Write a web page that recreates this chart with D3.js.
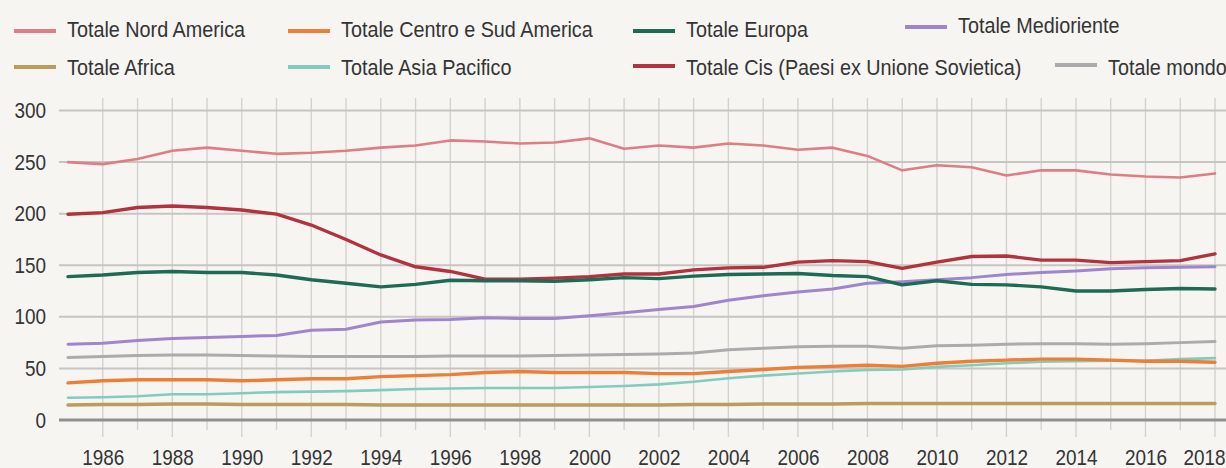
<!DOCTYPE html>
<html>
<head>
<meta charset="utf-8">
<script src="https://cdn.jsdelivr.net/npm/d3@7"></script>
<style>
  html, body { margin: 0; padding: 0; background: #f6f5f2; }
  svg { display: block; }
  text { font-family: "Liberation Sans", Arial, sans-serif; fill: #343434; }
</style>
</head>
<body>
<svg id="chart" width="1226" height="468"></svg>
<script>
// Anni della serie storica
const years = [1985, 1986, 1987, 1988, 1989, 1990, 1991, 1992, 1993, 1994,
               1995, 1996, 1997, 1998, 1999, 2000, 2001, 2002, 2003, 2004,
               2005, 2006, 2007, 2008, 2009, 2010, 2011, 2012, 2013, 2014,
               2015, 2016, 2017, 2018];

// Valori per area geografica
const nordAmerica = [250, 248, 253, 261, 264, 261, 258, 259, 261, 264,
                     266, 271, 270, 268, 269, 273, 263, 266, 264, 268,
                     266, 262, 264, 256, 242, 247, 245, 237, 242, 242,
                     238, 236, 235, 239];
const centroSudAmerica = [36, 38, 39, 39, 39, 38, 39, 40, 40, 42,
                          43, 44, 46, 47, 46, 46, 46, 45, 45, 47,
                          49, 51, 52, 53, 52, 55, 57, 58, 59, 59,
                          58, 57, 57, 56];
const europa = [139, 140.5, 143, 144, 143, 143, 140.5, 136, 132.5, 129,
                131.5, 135.5, 135, 135, 134.5, 136, 138, 137, 139.5, 141,
                141.5, 142, 140, 139, 131, 135, 131.5, 131, 129, 125,
                125, 126.5, 127.5, 127];
const medioriente = [73.5, 74.5, 77, 79, 80, 81, 82, 87, 88, 95,
                     97, 97.5, 99, 98.5, 98.5, 101, 104, 107, 110, 116,
                     120.5, 124, 127, 132.5, 134, 136, 138, 141, 143, 144.5,
                     146.5, 147.5, 148, 148.5];
const africa = [14.5, 15, 15, 15.5, 15.5, 15, 15, 15, 15, 14.5,
                14.5, 14.5, 14.5, 14.5, 14.5, 14.5, 14.5, 14.5, 15, 15,
                15.5, 15.5, 15.5, 16, 16, 16, 16, 16, 16, 16,
                16, 16, 16, 16];
const asiaPacifico = [21.5, 22, 23, 25, 25, 26, 27, 27.5, 28, 29,
                      30, 30.5, 31, 31, 31, 32, 33, 34.5, 37, 40.5,
                      43, 45, 47, 48.5, 49, 51.5, 53, 55, 56.5, 57,
                      57.5, 57.5, 59, 60];
const cis = [199.5, 201, 206, 207.5, 206, 203.5, 199.5, 189, 175, 160,
             148.5, 144, 136.5, 136.5, 137.5, 139, 141.5, 141.5, 145.5, 147.5,
             148, 153, 154.5, 153.5, 147, 153, 158.5, 159, 155, 155,
             152.5, 153.5, 154.5, 161];
const mondo = [60.5, 61.5, 62.5, 63, 63, 62.5, 62, 61.5, 61.5, 61.5,
               61.5, 62, 62, 62, 62.5, 63, 63.5, 64, 65, 68,
               69.5, 71, 71.5, 71.5, 69.5, 72, 72.5, 73.5, 74, 74,
               73.5, 74, 75, 76];

// Etichette dei tick
const yTicks = [0, 50, 100, 150, 200, 250, 300];
const xTickLabels = [1986, 1988, 1990, 1992, 1994, 1996, 1998, 2000, 2002,
                     2004, 2006, 2008, 2010, 2012, 2014, 2016, 2018];

// Serie: nome, valori, colore, spessore
const series = [
  { name: "Totale Nord America", values: nordAmerica, color: "#df7d84", width: 2.6 },
  { name: "Totale Centro e Sud America", values: centroSudAmerica, color: "#ec7f35", width: 3.4 },
  { name: "Totale Europa", values: europa, color: "#1d6a55", width: 3.4 },
  { name: "Totale Medioriente", values: medioriente, color: "#9f85cc", width: 3 },
  { name: "Totale Africa", values: africa, color: "#bb9c5e", width: 3.4 },
  { name: "Totale Asia Pacifico", values: asiaPacifico, color: "#83cbbf", width: 2.6 },
  { name: "Totale Cis (Paesi ex Unione Sovietica)", values: cis, color: "#b2323d", width: 3.4 },
  { name: "Totale mondo", values: mondo, color: "#ababab", width: 3 }
];

// Ordine di disegno (le ultime sopra)
const drawOrder = ["Totale mondo", "Totale Africa", "Totale Asia Pacifico",
  "Totale Centro e Sud America", "Totale Medioriente", "Totale Nord America",
  "Totale Cis (Paesi ex Unione Sovietica)", "Totale Europa"];

// Disposizione della legenda
const legendLayout = [
  { name: "Totale Nord America", x: 14, y: 31, ty: 37 },
  { name: "Totale Centro e Sud America", x: 288, y: 31, ty: 37 },
  { name: "Totale Europa", x: 633, y: 31, ty: 37 },
  { name: "Totale Medioriente", x: 905, y: 27, ty: 33 },
  { name: "Totale Africa", x: 14, y: 67, ty: 75 },
  { name: "Totale Asia Pacifico", x: 288, y: 67, ty: 75 },
  { name: "Totale Cis (Paesi ex Unione Sovietica)", x: 633, y: 66, ty: 75 },
  { name: "Totale mondo", x: 1055, y: 65, ty: 75 }
];

// Compressione orizzontale del carattere
const LEGEND_SCALE = 0.9;
const AXIS_SCALE = 0.86;

const svg = d3.select("#chart");
const W = 1226;

const x = d3.scaleLinear().domain([1985, 2018]).range([68, 1215]);
const y = d3.scaleLinear().domain([0, 300]).range([420, 110.5]);

// Griglia verticale (un anno per linea)
svg.append("g").selectAll("line")
  .data(years.slice(1))
  .join("line")
  .attr("x1", d => x(d)).attr("x2", d => x(d))
  .attr("y1", 98)
  .attr("y2", d => (d % 2 === 0 ? 437 : 430))
  .attr("stroke", "#d3d2cf")
  .attr("stroke-width", 1.4);

// Griglia orizzontale
svg.append("g").selectAll("line")
  .data(yTicks.filter(d => d > 0))
  .join("line")
  .attr("x1", 59).attr("x2", W)
  .attr("y1", d => y(d)).attr("y2", d => y(d))
  .attr("stroke", "#c6c5c2")
  .attr("stroke-width", 2);

// Linea dello zero
svg.append("line")
  .attr("x1", 59).attr("x2", W)
  .attr("y1", y(0)).attr("y2", y(0))
  .attr("stroke", "#8f8f8f")
  .attr("stroke-width", 3);

// Asse Y (solo etichette)
const yAxis = svg.append("g")
  .attr("transform", "translate(46,0)")
  .call(d3.axisLeft(y).tickValues(yTicks).tickSize(0).tickPadding(0));
yAxis.attr("font-family", null).attr("font-size", null);
yAxis.select(".domain").remove();
yAxis.selectAll("text")
  .attr("font-size", 22)
  .attr("fill", "#343434")
  .attr("transform", `scale(${AXIS_SCALE},1)`);

// Asse X (solo etichette, anni pari)
const xAxis = svg.append("g")
  .attr("transform", "translate(0,449)")
  .call(d3.axisBottom(x).tickValues(xTickLabels).tickFormat(d3.format("d")).tickSize(0).tickPadding(0));
xAxis.attr("font-family", null).attr("font-size", null);
xAxis.select(".domain").remove();
xAxis.selectAll("text")
  .attr("font-size", 22)
  .attr("fill", "#343434")
  .attr("transform", `scale(${AXIS_SCALE},1)`);
// l'ultima etichetta resta dentro il bordo destro
xAxis.selectAll(".tick")
  .filter(d => d === xTickLabels[xTickLabels.length - 1])
  .select("text")
  .attr("text-anchor", "end")
  .attr("x", (W - 1 - x(xTickLabels[xTickLabels.length - 1])) / AXIS_SCALE);

// Linee delle serie
const line = d3.line()
  .x((d, i) => x(years[i]))
  .y(d => y(d));

const byName = new Map(series.map(s => [s.name, s]));
svg.append("g")
  .selectAll("path")
  .data(drawOrder.map(n => byName.get(n)))
  .join("path")
  .attr("d", s => line(s.values))
  .attr("fill", "none")
  .attr("stroke", s => s.color)
  .attr("stroke-width", s => s.width)
  .attr("stroke-linejoin", "round")
  .attr("stroke-linecap", "round");

// Legenda
const legend = svg.append("g");
legendLayout.forEach(item => {
  const s = byName.get(item.name);
  legend.append("line")
    .attr("x1", item.x).attr("x2", item.x + 42)
    .attr("y1", item.y).attr("y2", item.y)
    .attr("stroke", s.color)
    .attr("stroke-width", 4);
  legend.append("text")
    .attr("transform", `translate(${item.x + 53},${item.ty}) scale(${LEGEND_SCALE},1)`)
    .attr("font-size", 22)
    .text(s.name);
});
</script>
</body>
</html>
